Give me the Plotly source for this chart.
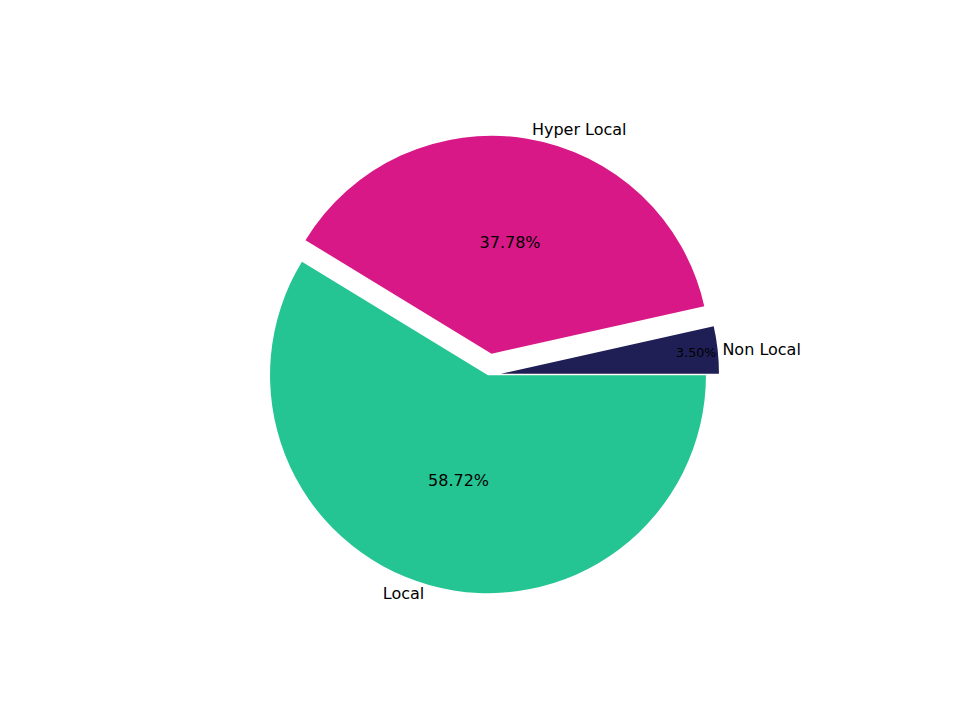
import plotly.graph_objects as go

labels = ["Non Local", "Hyper Local", "Local"]
values = [3.50, 37.78, 58.72]
colors = ["#1f1f55", "#d81887", "#25c493"]
pulls = [0.06, 0.1, 0]

cx, cy = 0.500, 0.49
dom = dict(x=[cx - 0.25, cx + 0.25], y=[cy - 0.333, cy + 0.333])
fig = go.Figure()
fig.add_trace(go.Pie(labels=labels, values=values, sort=False, direction="counterclockwise",
                     rotation=90 - 360 * values[0] / 100, pull=pulls,
                     marker=dict(colors=colors, line=dict(width=0)),
                     textinfo="percent", texttemplate="%{percent:.2%}", textposition="inside",
                     insidetextorientation="horizontal",
                     textfont=dict(color="black", size=16), showlegend=False, domain=dom,
                     hoverinfo="skip"))
fig.add_trace(go.Pie(labels=labels, values=values, sort=False, direction="counterclockwise",
                     rotation=90 - 360 * values[0] / 100, pull=pulls,
                     marker=dict(colors=["rgba(0,0,0,0)"] * 3, line=dict(width=0)),
                     textinfo="label", textposition="outside",
                     outsidetextfont=dict(color="black", size=16),
                     showlegend=False, domain=dom, hoverinfo="skip"))
fig.update_traces(automargin=False)
fig.update_layout(width=960, height=720, margin=dict(l=0, r=0, t=0, b=0),
                  paper_bgcolor="white", font=dict(family="DejaVu Sans"))
fig.write_html("out.html")
